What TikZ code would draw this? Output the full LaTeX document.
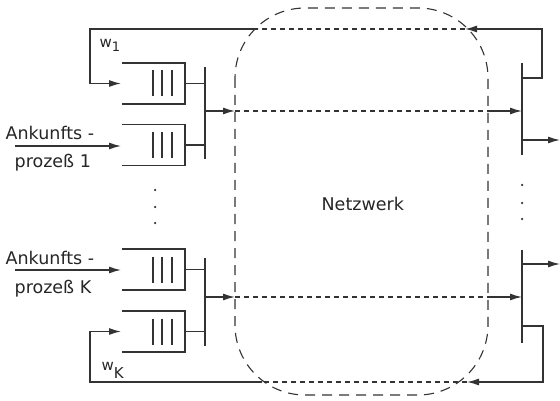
\documentclass[tikz,border=0pt]{standalone}
\usepackage{fontspec}
\setmainfont{DejaVu Sans}
\usetikzlibrary{arrows.meta}
\begin{document}
\begin{tikzpicture}[x=1pt,y=-1pt,line width=1.3pt,draw=black!80,text=black!85,
  arr/.style={-{Latex[length=12pt,width=7pt]}},
  bound/.style={dash pattern=on 10pt off 7pt,line width=1.1pt},
  inner/.style={dash pattern=on 5pt off 4pt,line width=1.1pt},
  lbl/.style={font=\fontsize{17.5}{20}\selectfont,inner sep=0pt,anchor=base west},
  wlbl/.style={font=\fontsize{15}{17}\selectfont,inner sep=0pt,anchor=base west},
  dotm/.style={circle,fill=black!80,inner sep=0pt,minimum size=2.5pt},
  queue/.pic={
    \draw (0,-20.5) -- (63,-20.5) -- (63,20.5) -- (0,20.5);
    \foreach \qx in {31,40,50} \draw (\qx,-13) -- (\qx,13);
  }]
\useasboundingbox (0,0) rectangle (560,401);

% network boundary
\draw[bound,rounded corners=70pt] (235,8) rectangle (488,395);
\node[lbl] (net) at (321,211) {Netzwerk};

% queues
\pic at (122,83.5) {queue};
\pic at (122,145) {queue};
\pic at (122,269.5) {queue};
\pic at (122,331.5) {queue};

% left bars
\coordinate (b1t) at (205,67); \coordinate (b1b) at (205,159);
\coordinate (b2t) at (205,258); \coordinate (b2b) at (205,346);
\draw (b1t) -- (b1b);
\draw (b2t) -- (b2b);
\draw (185,83.5) -- (205,83.5);
\draw (185,145) -- (205,145);
\draw (185,269.5) -- (205,269.5);
\draw (185,331.5) -- (205,331.5);

% right bars
\coordinate (r1t) at (522,63); \coordinate (r1b) at (522,155);
\coordinate (r2t) at (522,250); \coordinate (r2b) at (522,343);
\draw (r1t) -- (r1b);
\draw (r2t) -- (r2b);

% through-network connections (upper)
\coordinate (la1) at (235,111); \coordinate (ra1) at (488,111);
\draw[arr] (205,111) -- (la1);
\draw[inner] (la1) -- (ra1);
\draw[arr] (ra1) -- (522,111);
% lower
\coordinate (la2) at (235,297); \coordinate (ra2) at (488,297);
\draw[arr] (205,297) -- (la2);
\draw[inner] (la2) -- (ra2);
\draw[arr] (ra2) -- (522,297);

% outputs
\coordinate (o1) at (560,140); \coordinate (o2) at (560,264);
\draw[arr] (522,140) -- (o1);
\draw[arr] (522,264) -- (o2);

% feedback w1
\coordinate (f1a) at (465,29); \coordinate (f1b) at (258,29);
\draw[arr] (522,78) -- (542,78) -- (542,29) -- (f1a);
\draw[inner] (f1a) -- (f1b);
\draw[arr] (f1b) -- (90,29) -- (90,83.5) -- (121,83.5);
% feedback wK
\coordinate (f2a) at (467,382); \coordinate (f2b) at (262,382);
\draw[arr] (522,326) -- (543,326) -- (543,382) -- (f2a);
\draw[inner] (f2a) -- (f2b);
\draw[arr] (f2b) -- (90,382) -- (90,331.5) -- (121,331.5);

% arrivals
\draw[arr] (15,146) -- (121,146);
\draw[arr] (15,270) -- (121,270);
\node[lbl] (a1) at (5,140) {Ankunfts -};
\node[lbl] (p1) at (14,168) {prozeß 1};
\node[lbl] (aK) at (5,264) {Ankunfts -};
\node[lbl] (pK) at (14,293) {prozeß K};

% weights
\node[wlbl] (w1) at (99,48) {w\raisebox{-4pt}{\fontsize{13}{15}\selectfont 1}};
\node[wlbl] (wK) at (101,370) {w\raisebox{-8pt}{\fontsize{15}{17}\selectfont K}};

% dots
\node[dotm] (d1) at (155,190) {};
\node[dotm] (d2) at (155,207) {};
\node[dotm] (d3) at (155,223) {};
\node[dotm] (d4) at (522,185) {};
\node[dotm] (d5) at (522,203) {};
\node[dotm] (d6) at (522,219) {};
\end{tikzpicture}
\end{document}
